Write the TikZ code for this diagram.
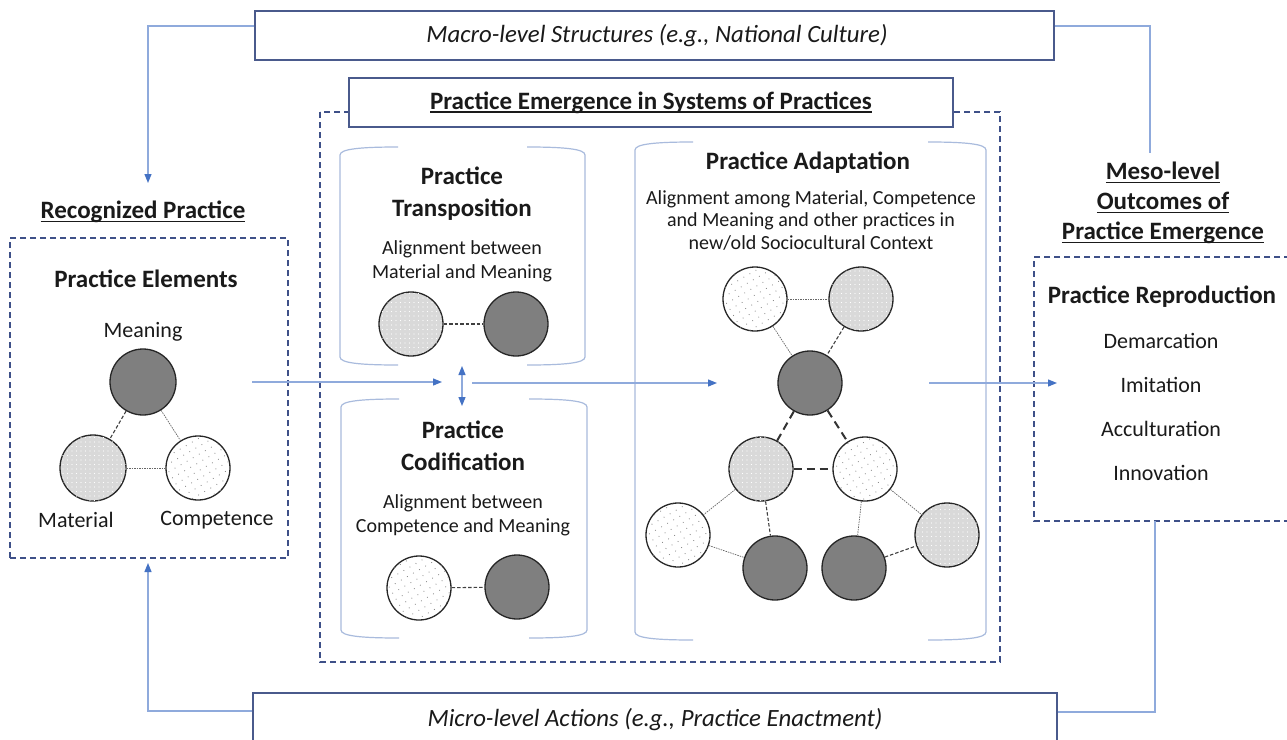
\documentclass[tikz,border=0pt]{standalone}
\usepackage{fontspec}
\setmainfont{Carlito}
\usetikzlibrary{arrows.meta,patterns.meta}

\definecolor{boxblue}{HTML}{4A5A8C}
\definecolor{dashblue}{HTML}{3E5088}
\definecolor{linkblue}{HTML}{8FAADC}
\definecolor{tipblue}{HTML}{4472C4}
\definecolor{bracketblue}{HTML}{A9BBDD}
\definecolor{darkdisc}{HTML}{7F7F7F}
\definecolor{lightdisc}{HTML}{D9D9D9}
\definecolor{inktext}{HTML}{1A1A1A}

% underline that sits just under the baseline
\newcommand\undl[1]{\setbox0=\hbox{#1}\rlap{\rule[-3.5pt]{\wd0}{1.6pt}}\box0}

% open panel frame: short top and bottom strokes, curved corners
\newcommand\panelframe[4]{%
  \draw[bracket] (#1+58,#2) .. controls (#1+20,#2) and (#1,#2+2) .. (#1,#2+8)
                 -- (#1,#4-8) .. controls (#1,#4-2) and (#1+20,#4) .. (#1+58,#4);
  \draw[bracket] (#3-58,#2) .. controls (#3-20,#2) and (#3,#2+2) .. (#3,#2+8)
                 -- (#3,#4-8) .. controls (#3,#4-2) and (#3-20,#4) .. (#3-58,#4);
}

\tikzset{
  hd/.style={font=\fontsize{25}{32}\selectfont\bfseries, align=center, text=inktext, inner sep=0pt},
  lbl/.style={font=\fontsize{22}{26}\selectfont, align=center, text=inktext, inner sep=0pt},
  bodytxt/.style={font=\fontsize{20}{24}\selectfont, align=center, text=inktext, inner sep=0pt},
  leveltxt/.style={font=\fontsize{24.8}{28}\selectfont\itshape, text=inktext},
  frame/.style={draw=boxblue, line width=1.4pt, fill=white},
  dashframe/.style={draw=dashblue, line width=1.1pt, dash pattern=on 6pt off 4pt},
  link/.style={draw=linkblue, line width=1.2pt},
  flow/.style={link, -{Triangle[length=9pt,width=7pt,color=tipblue]}},
  twoflow/.style={link, {Triangle[length=9pt,width=7pt,color=tipblue]}-{Triangle[length=9pt,width=7pt,color=tipblue]}},
  bracket/.style={draw=bracketblue, line width=1.2pt},
  disc/.style={circle, draw=black!85, line width=1.3pt, minimum size=64pt, inner sep=0pt},
  meaningdisc/.style={disc, fill=darkdisc},
  materialdisc/.style={disc, fill=lightdisc,
     postaction={pattern={Dots[distance=4.5pt,radius=0.7pt]}, pattern color=white}},
  competencedisc/.style={disc, fill=white,
     postaction={pattern={Dots[distance=7pt,radius=0.6pt,angle=30]}, pattern color=black!45}},
  finetie/.style={draw=black!60, line width=0.7pt, dash pattern=on 1.5pt off 1pt},
  midtie/.style={draw=black!75, line width=1.1pt, dash pattern=on 3.5pt off 2pt},
  boldtie/.style={draw=black!80, line width=2pt, dash pattern=on 8pt off 5pt},
}

\begin{document}
\begin{tikzpicture}[x=1pt,y=-1pt]
\useasboundingbox (0,0) rectangle (1287,739);
\clip (0,0) rectangle (1287,739);
\fill[white] (0,0) rectangle (1287,739);

% ---------- outer dashed frames ----------
\draw[dashframe] (320,112) rectangle (1000,662);
\node[dashframe, minimum width=278pt, minimum height=320pt, inner sep=0pt] (recbox) at (149,398) {};
\draw[dashframe] (1300,257) -- (1034,257) -- (1034,521) -- (1300,521);
\coordinate (repbot) at (1155,521);

% ---------- level boxes ----------
\node[frame, minimum width=799pt, minimum height=49pt, inner sep=0pt] (macro) at (654.5,35.5) {};
\node[leveltxt] (macrotxt) at (657,36) {Macro-level Structures (e.g., National Culture)};
\node[frame, minimum width=804pt, minimum height=54pt, inner sep=0pt] (micro) at (655,720) {};
\node[leveltxt] (microtxt) at (655,720) {Micro-level Actions (e.g., Practice Enactment)};
\node[frame, minimum width=604pt, minimum height=49pt, inner sep=0pt] (emerg) at (651,102.5) {};
\node[hd] (emergtxt) at (emerg) {\undl{Practice Emergence in Systems of Practices}};

% ---------- feedback connectors ----------
\coordinate (rectop) at (148,183);
\coordinate (mesotop) at (1150,153);
\coordinate (recbot) at (148,563);
\draw[flow] ([yshift=9.5pt]macro.west) -| (rectop);
\draw[link] ([yshift=9.5pt]macro.east) -| (mesotop);
\draw[flow] ([yshift=9pt]micro.west) -| (recbot);
\draw[link] ([yshift=8pt]micro.east) -| (repbot);

% ---------- left column: recognized practice ----------
\node[hd] (rectitle) at (143,212) {\undl{Recognized Practice}};
\node[hd] (elemtitle) at (146,279) {Practice Elements};
\node[lbl] (meanlbl) at (143,332) {Meaning};
\node[meaningdisc, minimum size=66pt] (em) at (143,382) {};
\node[materialdisc, minimum size=66pt] (ema) at (93,468) {};
\node[competencedisc, minimum size=64pt] (ec) at (198,468) {};
\node[lbl] (matlbl) at (76,520) {Material};
\node[lbl] (complbl) at (217,520) {Competence};
\draw[midtie] (em) -- (ema);
\draw[finetie] (em) -- (ec);
\draw[finetie] (ema) -- (ec);

% ---------- transposition panel ----------
\panelframe{340}{147}{585}{365}
\node[hd] (transtitle) at (462,194) {Practice\\Transposition};
\node[bodytxt] (transtxt) at (462,261) {Alignment between\\Material and Meaning};
\node[materialdisc] (tma) at (411,324) {};
\node[meaningdisc] (tme) at (516,324) {};
\draw[midtie] (tma) -- (tme);

% ---------- codification panel ----------
\panelframe{341}{399}{587}{638}
\node[hd] (codtitle) at (463,446) {Practice\\Codification};
\node[bodytxt] (codtxt) at (463,515) {Alignment between\\Competence and Meaning};
\node[competencedisc] (cco) at (419,588) {};
\node[meaningdisc] (cme) at (517,587) {};
\draw[midtie] (cco) -- (cme);

% ---------- adaptation panel ----------
\panelframe{635}{142}{986}{640}
\node[hd] (adtitle) at (808,163) {Practice Adaptation};
\node[bodytxt, font=\fontsize{20}{22.5}\selectfont] (adtxt) at (811,220)
  {Alignment among Material, Competence\\and Meaning and other practices in\\new/old Sociocultural Context};
\node[competencedisc] (atl) at (755,299) {};
\node[materialdisc] (atr) at (861,299) {};
\node[meaningdisc] (amid) at (810,383) {};
\node[materialdisc] (a2l) at (761,469) {};
\node[competencedisc] (a2r) at (865,469) {};
\node[competencedisc] (a3a) at (678,535) {};
\node[meaningdisc] (a3b) at (775,568) {};
\node[meaningdisc] (a3c) at (854,568) {};
\node[materialdisc] (a3d) at (947,535) {};
\draw[finetie] (atl) -- (atr);
\draw[finetie] (atl) -- (amid);
\draw[midtie] (atr) -- (amid);
\draw[boldtie] (amid) -- (a2l);
\draw[boldtie] (amid) -- (a2r);
\draw[boldtie] (a2l) -- (a2r);
\draw[finetie] (a2l) -- (a3a);
\draw[midtie] (a2l) -- (a3b);
\draw[finetie] (a2r) -- (a3c);
\draw[finetie] (a2r) -- (a3d);
\draw[finetie] (a3a) -- (a3b);
\draw[midtie] (a3c) -- (a3d);

% ---------- right column: outcomes ----------
\node[hd, font=\fontsize{25}{30}\selectfont\bfseries] (mesotitle) at (1163,203)
  {\undl{Meso-level}\\\undl{Outcomes of}\\\undl{Practice Emergence}};
\node[hd] (reptitle) at (1162,297) {Practice Reproduction};
\node[lbl, font=\fontsize{22}{43.7}\selectfont] (replist) at (1161,407)
  {Demarcation\\Imitation\\Acculturation\\Innovation};

% ---------- main flow ----------
\coordinate (f1a) at (252,382);
\coordinate (f1b) at (442,382);
\coordinate (f2a) at (472,383);
\coordinate (f2b) at (717,383);
\coordinate (f3a) at (929,383);
\coordinate (f3b) at (1057,383);
\coordinate (vtop) at (462,366);
\coordinate (vbot) at (462,406);
\draw[flow] (f1a) -- (f1b);
\draw[flow] (f2a) -- (f2b);
\draw[flow] (f3a) -- (f3b);
\draw[twoflow] (vtop) -- (vbot);
\end{tikzpicture}
\end{document}
